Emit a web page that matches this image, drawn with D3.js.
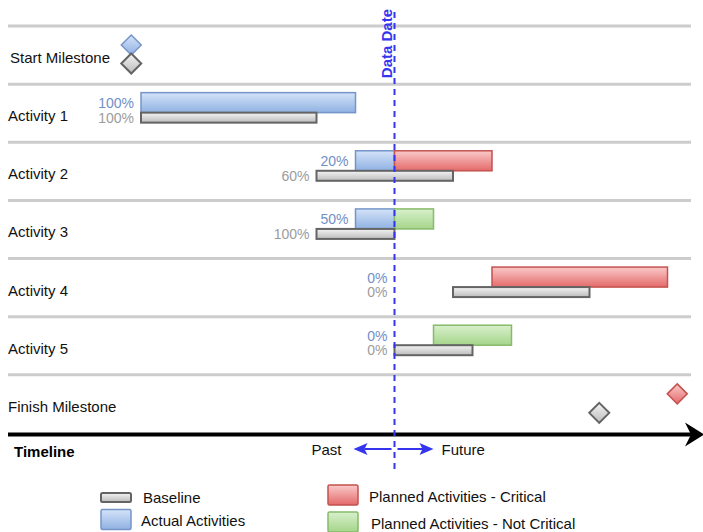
<!DOCTYPE html>
<html>
<head>
<meta charset="utf-8">
<script src="https://cdn.jsdelivr.net/npm/d3@7"></script>
<style>
  html, body { margin: 0; padding: 0; background: #fff; }
  svg { display: block; font-family: "Liberation Sans", Arial, sans-serif; }
</style>
</head>
<body>
<svg id="chart" width="703" height="532"></svg>
<script>
// Schedule rows, top to bottom
const rows = ["Start Milestone", "Activity 1", "Activity 2", "Activity 3", "Activity 4", "Activity 5", "Finish Milestone"];
const activities = ["Activity 1", "Activity 2", "Activity 3", "Activity 4", "Activity 5"];

// Times are in weeks
const baselineStart = [0.5, 5, 5, 8.5, 7];
const baselineEnd   = [5, 8.5, 7, 12, 9];
const actualStart   = [0.5, 6, 6, null, null];
const actualEnd     = [6, 7, 7, null, null];
const plannedStart  = [null, 7, 7, 9.5, 8];
const plannedEnd    = [null, 9.5, 8, 14, 10];
const critical      = [false, true, false, true, false];
const actualPct     = [100, 20, 50, 0, 0];
const baselinePct   = [100, 60, 100, 0, 0];

const startMilestoneActual   = 0.25;
const startMilestoneBaseline = 0.25;
const finishMilestonePlanned  = 14.25;
const finishMilestoneBaseline = 12.25;
const dataDate = 7;

const legendItems = ["Baseline", "Actual Activities", "Planned Activities - Critical", "Planned Activities - Not Critical"];

const svg = d3.select("#chart");
const x = d3.scaleLinear().domain([0, 15]).range([121.5, 706.5]);
const y = d3.scaleBand().domain(rows).range([26, 433]).padding(0);

// Gradients for bars and diamonds
const palette = {
  actual:   { top: "#d4e3f9", bottom: "#90b1e2", stroke: "#7595c8" },
  critical: { top: "#fac9c9", bottom: "#e46a6a", stroke: "#c4524f" },
  normal:   { top: "#d8f0cc", bottom: "#a5d58a", stroke: "#86bb69" },
  baseline: { top: "#f4f4f4", bottom: "#bbbbbb", stroke: "#646464" }
};
const defs = svg.append("defs");
Object.entries(palette).forEach(([k, c]) => {
  const g = defs.append("linearGradient").attr("id", "g-" + k)
    .attr("x1", 0).attr("y1", 0).attr("x2", 0).attr("y2", 1);
  g.append("stop").attr("offset", "0%").attr("stop-color", c.top);
  g.append("stop").attr("offset", "100%").attr("stop-color", c.bottom);
});

// Row separators
svg.append("g").selectAll("line").data(rows).join("line")
  .attr("x1", 8).attr("x2", 691)
  .attr("y1", d => y(d)).attr("y2", d => y(d))
  .attr("stroke", "#cccccc").attr("stroke-width", 3);

// Row labels
svg.append("g").selectAll("text").data(rows).join("text")
  .attr("x", (d, i) => i === 0 ? 10 : 8).attr("y", d => y(d) + 37)
  .attr("font-size", 15).attr("fill", "#111")
  .text(d => d);

function bar(g, x0, x1, yTop, h, kind) {
  const c = palette[kind];
  g.append("rect")
    .attr("x", x(x0)).attr("y", yTop)
    .attr("width", x(x1) - x(x0)).attr("height", h)
    .attr("fill", `url(#g-${kind})`)
    .attr("stroke", c.stroke).attr("stroke-width", kind === "baseline" ? 2 : 1.5);
}

function diamond(g, v, cy, kind) {
  const c = palette[kind], cx = x(v), r = 10;
  g.append("path")
    .attr("d", `M${cx},${cy - r}L${cx + r},${cy}L${cx},${cy + r}L${cx - r},${cy}Z`)
    .attr("fill", `url(#g-${kind})`)
    .attr("stroke", c.stroke).attr("stroke-width", kind === "baseline" ? 2 : 1.5);
}

const marks = svg.append("g");

// Activity bars and percent labels
activities.forEach((a, i) => {
  const top = y(a);
  if (actualStart[i] !== null) bar(marks, actualStart[i], actualEnd[i], top + 8.5, 20, "actual");
  if (plannedStart[i] !== null) bar(marks, plannedStart[i], plannedEnd[i], top + 8.5, 20, critical[i] ? "critical" : "normal");
  bar(marks, baselineStart[i], baselineEnd[i], top + 28.5, 10, "baseline");

  const actualAnchor = actualStart[i] !== null ? actualStart[i] : dataDate;
  const baseAnchor = Math.min(baselineStart[i], actualAnchor);
  marks.append("text")
    .attr("x", x(actualAnchor) - 7).attr("y", top + 24)
    .attr("text-anchor", "end").attr("font-size", 14).attr("fill", "#7190c6")
    .text(actualPct[i] + "%");
  marks.append("text")
    .attr("x", x(baseAnchor) - 7).attr("y", top + 38.5)
    .attr("text-anchor", "end").attr("font-size", 14).attr("fill", "#9c9c9c")
    .text(baselinePct[i] + "%");
});

// Milestones
const sTop = y("Start Milestone"), fTop = y("Finish Milestone");
diamond(marks, startMilestoneActual, sTop + 19, "actual");
diamond(marks, startMilestoneBaseline, sTop + 37.5, "baseline");
diamond(marks, finishMilestonePlanned, fTop + 19, "critical");
diamond(marks, finishMilestoneBaseline, fTop + 38, "baseline");

// Timeline axis arrow
const axisY = 434.5;
svg.append("line")
  .attr("x1", 8).attr("x2", 694).attr("y1", axisY).attr("y2", axisY)
  .attr("stroke", "#000").attr("stroke-width", 4);
svg.append("path")
  .attr("d", `M704,${axisY}L685,${axisY - 12}L691,${axisY}L685,${axisY + 12}Z`)
  .attr("fill", "#000");
svg.append("text").attr("x", 14).attr("y", 457)
  .attr("font-size", 15).attr("font-weight", "bold").attr("fill", "#000").text("Timeline");

// Data date line and label
const dd = x(dataDate);
const blue = "#3535f0";
svg.append("line")
  .attr("x1", dd).attr("x2", dd).attr("y1", 12).attr("y2", 470)
  .attr("stroke", blue).attr("stroke-width", 2).attr("stroke-dasharray", "6,5");
svg.append("text")
  .attr("transform", `translate(${dd - 3},9) rotate(-90)`)
  .attr("text-anchor", "end").attr("font-size", 15).attr("font-weight", "bold")
  .attr("fill", blue).text("Data Date");

// Past / Future arrows
const arrowY = 449;
const arrows = svg.append("g").attr("fill", blue).attr("stroke", blue);
arrows.append("line").attr("x1", dd - 30).attr("x2", dd - 3).attr("y1", arrowY).attr("y2", arrowY).attr("stroke-width", 2);
arrows.append("line").attr("x1", dd + 3).attr("x2", dd + 30).attr("y1", arrowY).attr("y2", arrowY).attr("stroke-width", 2);
arrows.append("path").attr("stroke", "none")
  .attr("d", `M${dd - 41},${arrowY}L${dd - 27},${arrowY - 6}L${dd - 30},${arrowY}L${dd - 27},${arrowY + 6}Z`);
arrows.append("path").attr("stroke", "none")
  .attr("d", `M${dd + 39},${arrowY}L${dd + 25},${arrowY - 6}L${dd + 28},${arrowY}L${dd + 25},${arrowY + 6}Z`);
svg.append("text").attr("x", dd - 53).attr("y", 455).attr("text-anchor", "end")
  .attr("font-size", 15).attr("fill", "#111").text("Past");
svg.append("text").attr("x", dd + 47).attr("y", 455)
  .attr("font-size", 15).attr("fill", "#111").text("Future");

// Legend
const legendKinds = ["baseline", "actual", "critical", "normal"];
const legendBox = [
  { x: 101, y: 493, h: 9, tx: 143, ty: 503 },
  { x: 101, y: 509.5, h: 20, tx: 141, ty: 526 },
  { x: 328, y: 485, h: 20, tx: 369, ty: 502 },
  { x: 328, y: 512, h: 20, tx: 371, ty: 529 }
];
const legend = svg.append("g");
legendItems.forEach((label, i) => {
  const k = legendKinds[i], b = legendBox[i], c = palette[k];
  legend.append("rect")
    .attr("x", b.x).attr("y", b.y).attr("width", 30).attr("height", b.h).attr("rx", 1.5)
    .attr("fill", `url(#g-${k})`).attr("stroke", c.stroke).attr("stroke-width", k === "baseline" ? 2 : 1.5);
  legend.append("text").attr("x", b.tx).attr("y", b.ty)
    .attr("font-size", 15).attr("fill", "#111").text(label);
});
</script>
</body>
</html>
